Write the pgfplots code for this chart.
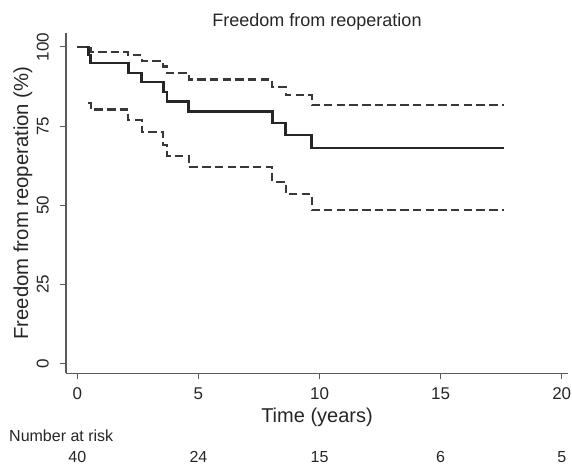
\documentclass[border=0pt]{standalone}
\usepackage{fontspec}
\setmainfont{Liberation Sans}
\usepackage{pgfplots}
\pgfplotsset{compat=1.18}
\definecolor{ink}{gray}{0.15}
\definecolor{cigray}{gray}{0.22}
\definecolor{axisgray}{gray}{0.35}

\begin{document}
\begin{tikzpicture}
\useasboundingbox (0pt,0pt) rectangle (572pt,466pt);
\begin{axis}[
  at={(66pt,92.7pt)}, anchor=south west,
  scale only axis, width=502pt, height=340pt,
  xmin=-0.47, xmax=20.26, ymin=-3.16, ymax=104.3,
  axis x line*=bottom, axis y line*=left,
  axis line style={-, draw=axisgray, line width=1.2pt},
  xtick={0,5,10,15,20}, ytick={0,25,50,75,100},
  tick align=outside, major tick length=6pt,
  tick style={draw=axisgray, line width=1pt},
  /pgf/number format/assume math mode=true,
  ticklabel style={font=\fontsize{17}{17}\selectfont, text=ink},
  yticklabel style={rotate=90, anchor=south, inner sep=0pt, yshift=11pt},
  xticklabel style={anchor=north, inner sep=0pt, yshift=-8pt},
  clip=false,
]
% Kaplan-Meier estimate
\addplot[const plot, draw=ink, line width=2.6pt] coordinates {
  (0,100) (0.45,97.5) (0.55,94.9) (2.1,91.7) (2.65,88.9) (3.55,85.8)
  (3.7,82.8) (4.6,79.6) (8.05,76.0) (8.6,72.2) (9.68,68.1) (17.6,68.1)
};
% upper confidence limit
\addplot[const plot, draw=cigray, line width=2.1pt, dash pattern=on 8.5pt off 4.2pt] coordinates {
  (0,100) (0.45,99.6) (0.55,98.5) (2.1,97.4) (2.65,95.6) (3.55,93.8)
  (3.7,91.8) (4.6,89.7) (8.05,87.2) (8.6,84.7) (9.68,81.6) (17.6,81.6)
};
% lower confidence limit
\addplot[const plot, draw=cigray, line width=2.1pt, dash pattern=on 8.5pt off 4.2pt] coordinates {
  (0.45,82.3) (0.55,80.2) (2.1,76.9) (2.65,73.2) (3.55,69.0)
  (3.7,65.5) (4.6,62.1) (8.05,57.4) (8.6,53.4) (9.68,48.4) (17.6,48.4)
};
% number at risk
\foreach \t/\n in {0/40,5/24,10/15,15/6,20/5}{
  \edef\tmp{\noexpand\node[anchor=base, yshift=-89pt, text=ink, font=\noexpand\fontsize{16}{16}\noexpand\selectfont] at (axis cs:\t,-3.16) {\n};}
  \tmp
}
\end{axis}
\node[anchor=base, text=ink, font=\fontsize{18}{18}\selectfont] at (317pt,439pt) {Freedom from reoperation};
\node[anchor=base, rotate=90, text=ink, font=\fontsize{20.3}{20.3}\selectfont] at (28pt,263pt) {Freedom from reoperation (\%)};
\node[anchor=base, text=ink, font=\fontsize{20}{20}\selectfont] at (317pt,44pt) {Time (years)};
\node[anchor=base west, inner sep=0pt, text=ink, font=\fontsize{16}{16}\selectfont] at (9pt,24.5pt) {Number at risk};
\end{tikzpicture}
\end{document}
